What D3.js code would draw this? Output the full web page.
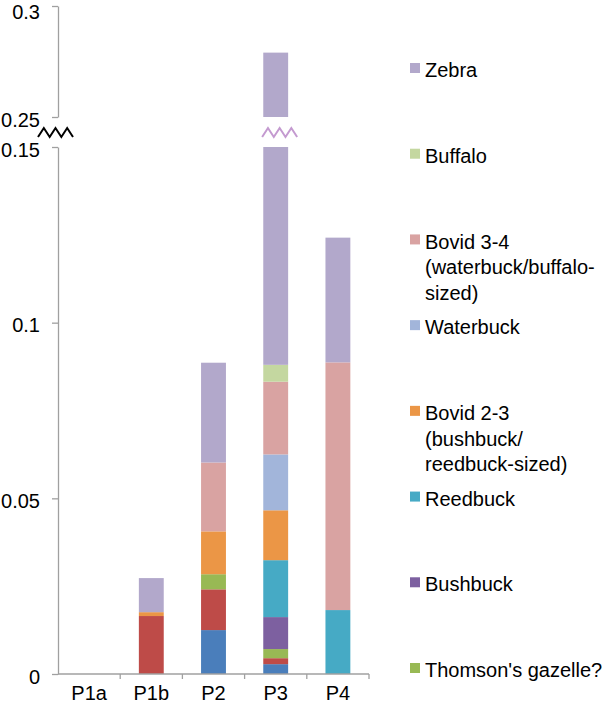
<!DOCTYPE html>
<html>
<head>
<meta charset="utf-8">
<script src="https://cdn.jsdelivr.net/npm/d3@7"></script>
<style>
  body { margin: 0; background: #fff; }
  svg text { font-family: "Liberation Sans", Arial, sans-serif; fill: #000; }
</style>
</head>
<body>
<div id="chart"></div>
<script>
// sites along the x axis
const categories = ["P1a", "P1b", "P2", "P3", "P4"];

// series, bottom of the stack first (first two are cut off the legend)
const seriesKeys = ["s1", "s2", "thomson", "bushbuck", "reedbuck", "bovid23", "waterbuck", "bovid34", "buffalo", "zebra"];
const seriesColors = ["#4a7ebb", "#be4b48", "#98b954", "#7d60a0", "#46aac5", "#eb9646", "#a2b5da", "#d9a3a2", "#c4d7a0", "#b2a8cb"];

const s1Values       = [0, 0,      0.0125, 0.0028, 0];
const s2Values       = [0, 0.0165, 0.0116, 0.0017, 0];
const thomsonValues  = [0, 0,      0.0043, 0.0026, 0];
const bushbuckValues = [0, 0,      0,      0.0091, 0];
const reedbuckValues = [0, 0,      0,      0.0162, 0.0182];
const bovid23Values  = [0, 0.0011, 0.0122, 0.0142, 0];
const waterbuckValues= [0, 0,      0,      0.0159, 0];
const bovid34Values  = [0, 0,      0.0196, 0.0207, 0.0705];
const buffaloValues  = [0, 0,      0,      0.0048, 0];
const zebraValues    = [0, 0.0097, 0.0284, 0.191,  0.0355];

// legend, top to bottom
const legendKeys = ["zebra", "buffalo", "bovid34", "waterbuck", "bovid23", "reedbuck", "bushbuck", "thomson"];
const legendLabels = [
  ["Zebra"],
  ["Buffalo"],
  ["Bovid 3-4", "(waterbuck/buffalo-", "sized)"],
  ["Waterbuck"],
  ["Bovid 2-3", "(bushbuck/", "reedbuck-sized)"],
  ["Reedbuck"],
  ["Bushbuck"],
  ["Thomson's gazelle?"]
];

const lowTicks = [0, 0.05, 0.1, 0.15];
const highTicks = [0.25, 0.3];

const width = 609, height = 707;
const svg = d3.select("#chart").append("svg")
  .attr("width", width)
  .attr("height", height);

// build table for d3.stack
const allValues = [s1Values, s2Values, thomsonValues, bushbuckValues, reedbuckValues,
                   bovid23Values, waterbuckValues, bovid34Values, buffaloValues, zebraValues];
const table = categories.map((c, i) => {
  const row = { cat: c };
  seriesKeys.forEach((k, j) => row[k] = allValues[j][i]);
  return row;
});
const stacked = d3.stack().keys(seriesKeys)(table);

const color = d3.scaleOrdinal().domain(seriesKeys).range(seriesColors);

const x = d3.scaleBand()
  .domain(categories)
  .range([58, 369])
  .paddingInner(0.6)
  .paddingOuter(0.3);

// broken y axis: two linear pieces
const yLow = d3.scaleLinear().domain([0, 0.15]).range([674, 147]);
const yHigh = d3.scaleLinear().domain([0.25, 0.3]).range([117, 6]);

// bars
stacked.forEach(layer => {
  const g = svg.append("g").attr("fill", color(layer.key));
  layer.forEach((d, i) => {
    const v0 = d[0], v1 = d[1];
    if (v1 - v0 <= 0) return;
    const bx = x(categories[i]);
    // lower piece
    const a = Math.min(v0, 0.15), b = Math.min(v1, 0.15);
    if (b > a) {
      g.append("rect")
        .attr("x", bx).attr("width", x.bandwidth())
        .attr("y", yLow(b)).attr("height", yLow(a) - yLow(b));
    }
    // upper piece
    if (v1 > 0.25) {
      const c0 = Math.max(v0, 0.25);
      g.append("rect")
        .attr("x", bx).attr("width", x.bandwidth())
        .attr("y", yHigh(v1)).attr("height", yHigh(c0) - yHigh(v1));
    }
  });
});

// y axes
function styleAxis(g) {
  g.select(".domain").attr("stroke", "#a0a0a0").attr("stroke-width", 1.3);
  g.selectAll(".tick line").attr("stroke", "#a0a0a0").attr("stroke-width", 1.3);
  g.selectAll(".tick text")
    .attr("font-size", 20)
    .attr("font-family", "Liberation Sans, Arial, sans-serif")
    .attr("fill", "#000")
    .attr("dy", "0.45em")
    .attr("x", -18);
}

svg.append("g")
  .attr("transform", "translate(58,0)")
  .call(d3.axisLeft(yLow).tickValues(lowTicks).tickSize(6).tickSizeOuter(0)
    .tickFormat(d => d === 0 ? "0" : String(d)))
  .call(styleAxis);

svg.append("g")
  .attr("transform", "translate(58,0)")
  .call(d3.axisLeft(yHigh).tickValues(highTicks).tickSize(6).tickSizeOuter(0)
    .tickFormat(d => String(d)))
  .call(styleAxis)
  .selectAll(".tick text")
  .filter(d => d === 0.3)
  .attr("dy", "0.62em");

// x axis
const xAxisY = yLow(0);
svg.append("line")
  .attr("x1", 58).attr("x2", 369)
  .attr("y1", xAxisY).attr("y2", xAxisY)
  .attr("stroke", "#a0a0a0").attr("stroke-width", 1.3);

const gap = x.step() * x.paddingInner() / 2;
svg.selectAll(".xtick")
  .data(categories)
  .join("line")
  .attr("x1", d => x(d) + x.bandwidth() + gap)
  .attr("x2", d => x(d) + x.bandwidth() + gap)
  .attr("y1", xAxisY).attr("y2", xAxisY + 5)
  .attr("stroke", "#a0a0a0").attr("stroke-width", 1.3);

svg.selectAll(".xlabel")
  .data(categories)
  .join("text")
  .attr("x", d => x(d) + x.bandwidth() / 2)
  .attr("y", 700)
  .attr("text-anchor", "middle")
  .attr("font-size", 20)
  .text(d => d);

// break markers
const breakY = (yHigh(0.25) + yLow(0.15)) / 2 + 0.5;
function zigzag(x0, x1, yc, stroke) {
  const n = 6;
  const pts = d3.range(n + 1).map(i => [x0 + (x1 - x0) * i / n, i % 2 === 0 ? yc + 4.5 : yc - 4.5]);
  svg.append("path")
    .attr("d", d3.line()(pts))
    .attr("fill", "none")
    .attr("stroke", stroke)
    .attr("stroke-width", 2);
}
zigzag(38, 73, breakY, "#000");
const p3Right = x("P3") + x.bandwidth();
zigzag(p3Right - 26, p3Right + 9, breakY, "#c49ad0");

// legend
const legendY = d3.scalePoint().domain(legendKeys).range([70, 670]);
const leg = svg.append("g");
legendKeys.forEach((k, i) => {
  const yc = legendY(k);
  leg.append("rect")
    .attr("x", 410).attr("y", yc - 7)
    .attr("width", 10).attr("height", 10)
    .attr("fill", color(k));
  legendLabels[i].forEach((line, j) => {
    leg.append("text")
      .attr("x", 425)
      .attr("y", yc + j * 25.5)
      .attr("dy", "0.36em")
      .attr("font-size", 20)
      .text(line);
  });
});
</script>
</body>
</html>
